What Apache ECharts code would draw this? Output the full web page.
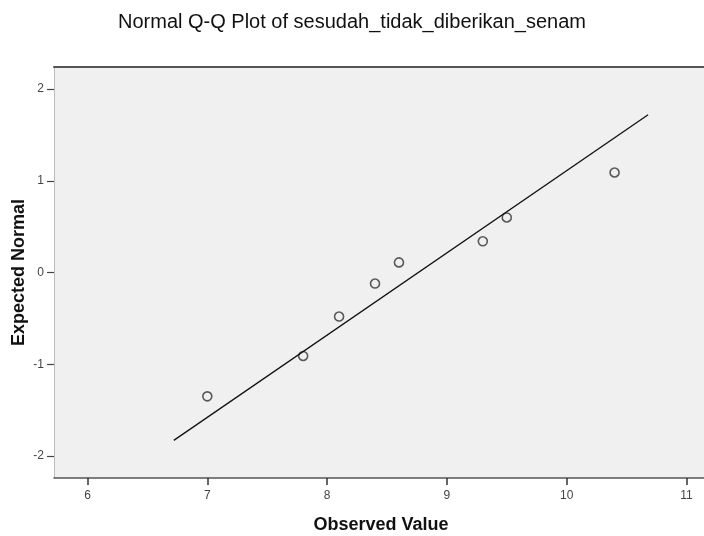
<!DOCTYPE html>
<html>
  <head>
    <meta charset="utf-8" />
    <title>Normal Q-Q Plot</title>
    <style>
      html, body { margin: 0; padding: 0; background: #fff; }
      #chart-container { width: 704px; height: 536px; }
    </style>
  </head>
  <body>
    <div id="chart-container"></div>
    <script src="https://cdn.jsdelivr.net/npm/echarts@6/dist/echarts.min.js"></script>
    <script>
      // observed values and their expected normal scores
      var observed = [7.0, 7.8, 8.1, 8.4, 8.6, 9.3, 9.5, 10.4];
      var expected = [-1.35, -0.91, -0.48, -0.12, 0.11, 0.34, 0.6, 1.09];
      // reference line end points
      var lineX = [6.72, 10.68];
      var lineY = [-1.83, 1.72];
      var xTicks = [6, 7, 8, 9, 10, 11];
      var yTicks = [-2, -1, 0, 1, 2];

      var dom = document.getElementById("chart-container");
      var myChart = echarts.init(dom, null, { renderer: "canvas" });

      var points = [];
      for (var i = 0; i < observed.length; i++) {
        points.push([observed[i], expected[i]]);
      }
      var line = [];
      for (var j = 0; j < lineX.length; j++) {
        line.push([lineX[j], lineY[j]]);
      }

      var font = "Arial, 'Liberation Sans', sans-serif";

      var option = {
        animation: false,
        backgroundColor: "#ffffff",
        title: {
          text: "Normal Q-Q Plot of sesudah_tidak_diberikan_senam",
          left: "center",
          top: 7,
          textStyle: { fontFamily: font, fontSize: 20, fontWeight: "normal", color: "#111" }
        },
        grid: {
          left: 54,
          right: -4,
          top: 67,
          bottom: 58,
          outerBoundsMode: "none",
          containLabel: false,
          show: true,
          backgroundColor: "#f0f0f0",
          borderWidth: 0
        },
        xAxis: [
          {
            type: "value",
            min: 5.72,
            max: 11.18,
            position: "bottom",
            splitLine: { show: false },
            axisLine: { onZero: false, lineStyle: { color: "#555", width: 1.5 } },
            axisTick: {
              customValues: xTicks,
              length: 7,
              lineStyle: { color: "#333", width: 1.5 }
            },
            axisLabel: {
              customValues: xTicks,
              margin: 12,
              fontFamily: font,
              fontSize: 12,
              color: "#444"
            },
            name: "Observed Value",
            nameLocation: "middle",
            nameGap: 38,
            nameMoveOverlap: false,
            nameTextStyle: { fontFamily: font, fontSize: 18, fontWeight: "bold", color: "#111" }
          },
          {
            type: "value",
            min: 5.72,
            max: 11.18,
            position: "top",
            splitLine: { show: false },
            axisLine: { onZero: false, lineStyle: { color: "#555", width: 2 } },
            axisTick: { show: false },
            axisLabel: { show: false }
          }
        ],
        yAxis: {
          type: "value",
          min: -2.24,
          max: 2.24,
          splitLine: { show: false },
          axisLine: { show: true, onZero: false, lineStyle: { color: "#bbb", width: 1 } },
          axisTick: {
            show: true,
            customValues: yTicks,
            length: 7,
            lineStyle: { color: "#444", width: 1.2 }
          },
          axisLabel: {
            customValues: yTicks,
            margin: 10,
            fontFamily: font,
            fontSize: 12,
            color: "#444"
          },
          name: "Expected Normal",
          nameLocation: "middle",
          nameGap: 26,
          nameMoveOverlap: false,
          nameTextStyle: { fontFamily: font, fontSize: 18, fontWeight: "bold", color: "#111" }
        },
        series: [
          {
            type: "line",
            data: line,
            showSymbol: false,
            symbol: "none",
            lineStyle: { color: "#111", width: 1.3 }
          },
          {
            type: "scatter",
            data: points,
            symbol: "circle",
            symbolSize: 9,
            itemStyle: { color: "rgba(0,0,0,0)", borderColor: "#333", borderWidth: 1.6 }
          }
        ]
      };

      myChart.setOption(option);
      window.addEventListener("resize", myChart.resize);
    </script>
  </body>
</html>
